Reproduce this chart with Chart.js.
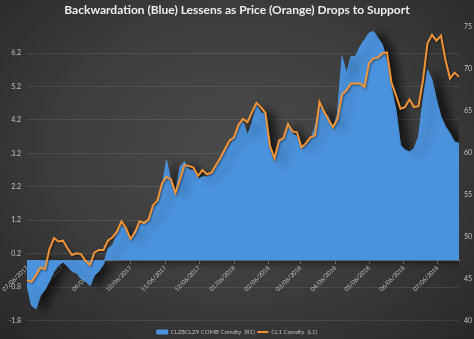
<!DOCTYPE html>
<html><head><meta charset="utf-8">
<script src="https://cdn.jsdelivr.net/npm/chart.js@4/dist/chart.umd.min.js"></script>
<style>
html,body{margin:0;padding:0;}
body{width:474px;height:339px;overflow:hidden;background:radial-gradient(ellipse at 50% 45%, #4a4a4a 0%, #3e3e3e 50%, #282828 100%);}
canvas{display:block;}
</style></head><body>
<canvas id="c" width="474" height="339"></canvas>
<script>
// Samples every 4 calendar days starting 07/06/2017
const dayStep = 4;
const spreadValues = [
 -0.75,-1.35,-1.45,-1.05,-0.88,-0.62,-0.33,-0.15,-0.05,-0.17,
 -0.33,-0.38,-0.55,-0.62,-0.76,-0.45,-0.32,-0.12,0.35,0.45,
 0.8,1.05,0.9,0.6,0.9,1.05,1.13,1.2,1.55,1.7,
 2.2,3.0,2.35,2.0,2.8,2.95,2.7,2.7,2.45,2.5,
 2.5,2.6,2.85,3.1,3.25,3.45,3.65,4.05,4.15,3.75,
 4.1,4.65,4.4,4.4,3.3,2.9,3.55,3.65,4.1,3.8,
 3.7,3.35,3.45,3.6,4.0,4.6,4.4,4.3,3.9,4.4,
 6.1,5.6,6.1,6.1,6.4,6.6,6.8,6.85,6.65,6.45,
 5.95,5.15,4.5,3.45,3.3,3.25,3.35,3.7,4.8,5.7,
 5.4,4.8,4.3,4.0,3.8,3.55,3.5
];
const priceValues = [
 44.8,44.6,45.4,46.3,46.1,48.5,49.8,49.4,49.5,48.6,
 47.8,48.0,47.9,47.1,46.6,48.1,48.4,48.4,49.5,49.9,
 50.6,51.8,51.0,49.7,50.5,51.8,51.6,52.0,53.7,54.3,
 56.3,57.1,56.8,55.2,56.8,58.5,58.4,58.2,57.2,57.9,
 57.4,57.6,58.5,59.4,60.4,61.4,61.8,63.3,64.0,63.6,
 64.8,65.9,65.4,64.7,60.8,59.3,61.4,61.7,63.4,62.5,
 62.4,60.6,61.1,61.8,62.0,66.0,64.9,63.9,63.0,64.0,
 66.9,67.4,68.2,68.2,68.2,67.8,70.6,71.2,71.3,71.8,
 71.9,68.3,66.8,65.2,65.4,66.3,65.4,65.5,68.6,73.0,
 74.0,73.3,73.9,71.0,68.8,69.5,69.0
];
const tickDays = [0,31,62,92,123,153,184,215,243,274,304,335,365];
const tickLabels = ['07/06/2017','08/06/2017','09/06/2017','10/06/2017','11/06/2017','12/06/2017',
  '01/06/2018','02/06/2018','03/06/2018','04/06/2018','05/06/2018','06/06/2018','07/06/2018'];
const leftTicks = [-1.8,-0.8,0.2,1.2,2.2,3.2,4.2,5.2,6.2];
const rightTicks = [40,45,50,55,60,65,70,75];
const seriesNames = ['CLZ8CLZ9 COMB Comdty  (R1)','CL1 Comdty  (L1)'];
const titleText = 'Backwardation (Blue) Lessens as Price (Orange) Drops to Support';

const spreadData = spreadValues.map((v,i)=>({x:i*dayStep,y:v}));
const priceData = priceValues.map((v,i)=>({x:i*dayStep,y:v}));
const lastDay = (spreadValues.length-1)*dayStep;

// drop shadows: large one behind the blue area, subtle one under the orange line
const shadowPlugin = {
  id:'dsShadow',
  beforeDatasetsDraw(chart){
    const c = chart.ctx; c.save();
    c.shadowColor='rgba(0,0,0,0.6)'; c.shadowBlur=8; c.shadowOffsetX=9; c.shadowOffsetY=2;
  },
  afterDatasetDraw(chart, args){
    if (args.index === 0) {
      const c = chart.ctx;
      c.shadowColor='rgba(0,0,0,0.45)'; c.shadowBlur=2; c.shadowOffsetX=1; c.shadowOffsetY=1;
    }
  },
  afterDatasetsDraw(chart){ chart.ctx.restore(); },
  afterLayout(chart){
    const l = chart.legend;
    if (l) { l.top += 6; l.bottom += 6; }
  }
};

const tickFont = {family:'Lato, "Open Sans", sans-serif', size:7};
const tickColor = '#c4c4c4';

new Chart(document.getElementById('c'), {
  type:'line',
  data:{datasets:[
    {label:seriesNames[0], data:spreadData, yAxisID:'y', borderColor:'#4b92dc', backgroundColor:'#4b92dc',
     borderWidth:1, fill:'origin', pointRadius:0, tension:0, order:2, pointStyle:'rect'},
    {label:seriesNames[1], data:priceData, yAxisID:'y1', borderColor:'#f39436', backgroundColor:'#f39436',
     borderWidth:2, fill:false, pointRadius:0, tension:0, order:1, pointStyle:'line'}
  ]},
  options:{
    responsive:false, animation:false,
    layout:{padding:{left:0,right:0,top:0,bottom:0}},
    scales:{
      x:{type:'linear', min:0, max:lastDay, position:{y:0}, z:1,
        afterBuildTicks:s=>{ s.ticks = tickDays.map(v=>({value:v})); },
        ticks:{callback:(v,i)=>tickLabels[i], autoSkip:false, maxRotation:45, minRotation:45,
          color:tickColor, font:{family:tickFont.family,size:6}, padding:1},
        grid:{display:true, drawOnChartArea:false, drawTicks:true, tickLength:3, color:'#8f8f8f'},
        border:{display:true, color:'#8f8f8f', width:1}
      },
      y:{position:'left', min:-1.8, max:7.0,
        afterBuildTicks:s=>{ s.ticks = leftTicks.map(v=>({value:v})); },
        afterFit:s=>{ s.width = 27; },
        ticks:{callback:v=>Number(v).toFixed(1), color:tickColor, font:tickFont, padding:6},
        grid:{color:'rgba(255,255,255,0.09)', drawTicks:false},
        border:{display:false}
      },
      y1:{position:'right', min:40, max:75,
        afterBuildTicks:s=>{ s.ticks = rightTicks.map(v=>({value:v})); },
        afterFit:s=>{ s.width = 15; },
        ticks:{color:tickColor, font:tickFont, padding:5},
        grid:{display:false, drawTicks:false},
        border:{display:false}
      }
    },
    plugins:{
      title:{display:true, text:titleText, color:'#ececec',
        font:{family:'Lato, "Open Sans", sans-serif', size:12, weight:'bold'}, padding:{top:3,bottom:9}},
      legend:{position:'bottom',
        labels:{usePointStyle:true, pointStyleWidth:11, boxHeight:4, color:'#bdbdbd',
          font:{family:'Lato, "Open Sans", sans-serif', size:6}, padding:2.5,
          sort:(a,b)=>a.datasetIndex-b.datasetIndex}},
      tooltip:{enabled:false}
    }
  },
  plugins:[shadowPlugin]
});
</script>
</body></html>
